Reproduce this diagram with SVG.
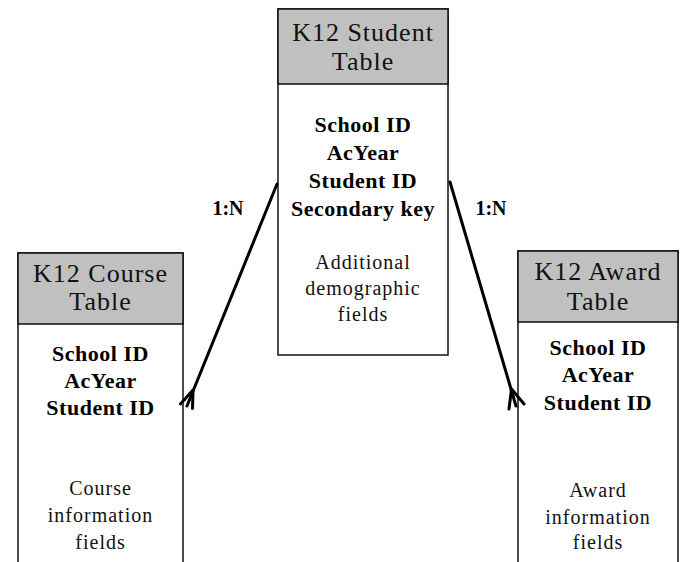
<svg xmlns="http://www.w3.org/2000/svg" width="680" height="562" viewBox="0 0 680 562">
<style>
.box{fill:#fff;stroke:#111;stroke-width:1.5}
.hdr{fill:#c0c0c0;stroke:#111;stroke-width:1.5}
.ht{font-family:"Liberation Serif",serif;font-size:26px;letter-spacing:1px;text-anchor:middle;fill:#111}
.key{font-family:"Liberation Serif",serif;font-size:22px;font-weight:bold;letter-spacing:0.5px;text-anchor:middle;fill:#000}
.body{font-family:"Liberation Serif",serif;font-size:20px;letter-spacing:1px;text-anchor:middle;fill:#111}
.lbl{font-family:"Liberation Serif",serif;font-size:20px;font-weight:bold;text-anchor:middle;fill:#000}
.conn{stroke:#000;stroke-width:3;fill:none;stroke-linecap:round}
.foot{stroke:#000;stroke-width:3;fill:none;stroke-linecap:round}
</style>
<rect width="680" height="562" fill="#fff"/>
<g id="student">
<rect class="box" x="278" y="9" width="170" height="346"/>
<rect class="hdr" x="278" y="9" width="170" height="75"/>
<text class="ht" x="363" y="41">K12 Student</text>
<text class="ht" x="363" y="70">Table</text>
<text class="key" x="363" y="132">School ID</text>
<text class="key" x="363" y="160">AcYear</text>
<text class="key" x="363" y="188">Student ID</text>
<text class="key" x="363" y="216">Secondary key</text>
<text class="body" x="363" y="269">Additional</text>
<text class="body" x="363" y="295">demographic</text>
<text class="body" x="363" y="321">fields</text>
</g>
<g id="course">
<rect class="box" x="18" y="253" width="165" height="320"/>
<rect class="hdr" x="18" y="253" width="165" height="71"/>
<text class="ht" x="100.5" y="282">K12 Course</text>
<text class="ht" x="100.5" y="310">Table</text>
<text class="key" x="100.5" y="361">School ID</text>
<text class="key" x="100.5" y="388">AcYear</text>
<text class="key" x="100.5" y="415">Student ID</text>
<text class="body" x="100.5" y="495">Course</text>
<text class="body" x="100.5" y="522">information</text>
<text class="body" x="100.5" y="549">fields</text>
</g>
<g id="award">
<rect class="box" x="518" y="251" width="160" height="320"/>
<rect class="hdr" x="518" y="251" width="160" height="71"/>
<text class="ht" x="598" y="280">K12 Award</text>
<text class="ht" x="598" y="310">Table</text>
<text class="key" x="598" y="355">School ID</text>
<text class="key" x="598" y="382">AcYear</text>
<text class="key" x="598" y="410">Student ID</text>
<text class="body" x="598" y="497">Award</text>
<text class="body" x="598" y="524">information</text>
<text class="body" x="598" y="549">fields</text>
</g>
<g id="connectors">
<path class="conn" d="M277,184 L187,406"/>
<path class="foot" d="M193,390 L180.5,404 M193,390 L192.5,408.5"/>
<text class="lbl" x="228" y="215">1:N</text>
<path class="conn" d="M450,182 L516,406"/>
<path class="foot" d="M511.5,389 L524,404 M511.5,389 L509,409"/>
<text class="lbl" x="491" y="215">1:N</text>
</g>
</svg>
